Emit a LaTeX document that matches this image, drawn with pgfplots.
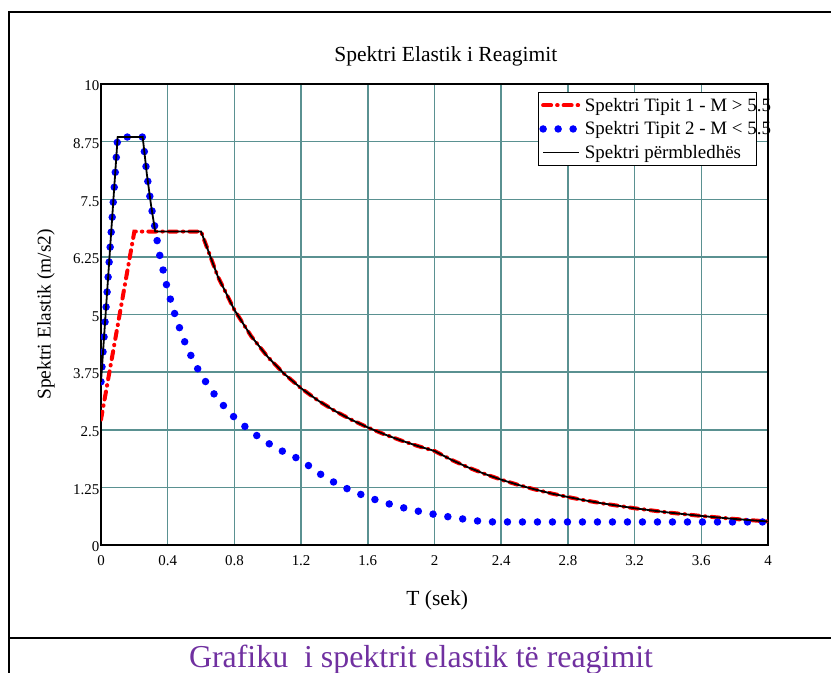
\documentclass[border=0pt]{standalone}
\usepackage{fontspec}
\setmainfont{Liberation Serif}
\usepackage{pgfplots}
\pgfplotsset{compat=1.18}
\definecolor{gridteal}{RGB}{90,145,145}
\definecolor{capurple}{RGB}{112,48,160}
\begin{document}
\begin{tikzpicture}
\useasboundingbox (0,0) rectangle (831bp,-673bp);
\draw[line width=2bp] (8.5bp,-680bp) -- (8.5bp,-12bp) -- (840bp,-12bp);
\draw[line width=2bp] (8.5bp,-638bp) -- (840bp,-638bp);
\begin{axis}[
  at={(101bp,-545bp)}, anchor=south west,
  scale only axis, width=667bp, height=461bp,
  xmin=0, xmax=4, ymin=0, ymax=10,
  xtick={0,0.4,0.8,1.2,1.6,2,2.4,2.8,3.2,3.6,4},
  xticklabels={0,0.4,0.8,1.2,1.6,2,2.4,2.8,3.2,3.6,4},
  ytick={0,1.25,2.5,3.75,5,6.25,7.5,8.75,10},
  yticklabels={0,1.25,2.5,3.75,5,6.25,7.5,8.75,10},
  /pgf/number format/assume math mode=true,
  grid=major, major grid style={gridteal, line width=1.5bp},
  major tick length=0pt,
  axis line style={black, line width=1.5bp},
  tick label style={font=\fontsize{15}{18}\selectfont},
  xticklabel style={anchor=base, inner sep=0pt, yshift=-20.3bp},
  yticklabel style={anchor=east, inner sep=0pt, xshift=-1.5bp, yshift=-2bp},
  title={Spektri Elastik i Reagimit},
  title style={at={(axis description cs:0.517,1.0369)}, anchor=base, font=\fontsize{21.6}{26}\selectfont},
  xlabel={T (sek)},
  xlabel style={at={(axis description cs:0.504,-0.1323)}, anchor=base, font=\fontsize{21.6}{26}\selectfont},
  ylabel={Spektri Elastik (m/s2)},
  ylabel style={at={(axis description cs:-0.0757,0.5)}, rotate=0, anchor=base, font=\fontsize{19.5}{23}\selectfont},
  legend image code/.code={\draw[#1] (0bp,0bp) -- (36bp,0bp);},
  legend cell align=left,
  legend style={at={(0.655,0.9826)}, anchor=north west, draw=black, line width=1bp,
    font=\fontsize{19}{23}\selectfont, inner xsep=1bp, inner ysep=1bp, row sep=0bp,
    nodes={inner xsep=2bp, inner ysep=4.5bp}},
]
\addplot[red, line width=4bp, line cap=round, dash pattern=on 8bp off 6bp on 0.5bp off 6bp] coordinates {
(0,2.72) (0.2,6.8) (0.6,6.8) (0.7,5.829) (0.8,5.1) (0.9,4.533) (1.0,4.08) (1.1,3.709)
(1.2,3.4) (1.3,3.138) (1.4,2.914) (1.5,2.72) (1.6,2.55) (1.7,2.4) (1.8,2.267) (1.9,2.147)
(2.0,2.04) (2.1,1.850) (2.2,1.686) (2.3,1.543) (2.4,1.417) (2.5,1.306) (2.6,1.207)
(2.7,1.119) (2.8,1.041) (2.9,0.970) (3.0,0.907) (3.2,0.797) (3.4,0.706) (3.6,0.630)
(3.8,0.565) (4.0,0.510)};
\addlegendentry{\makebox[169bp][l]{Spektri Tipit 1 - M > 5.5}}
\addplot[blue, line width=7.5bp, line cap=round, dash pattern=on 0bp off 15bp] coordinates {
(0,3.54) (0.1,8.85) (0.25,8.85) (0.275,8.045) (0.3,7.375) (0.35,6.321) (0.4,5.531)
(0.45,4.917) (0.5,4.425) (0.55,4.023) (0.6,3.688) (0.7,3.161) (0.8,2.766) (0.9,2.458)
(1.0,2.213) (1.1,2.011) (1.2,1.844) (1.3,1.571) (1.4,1.355) (1.5,1.180) (1.6,1.037)
(1.7,0.919) (1.8,0.819) (1.9,0.735) (2.0,0.664) (2.1,0.602) (2.2,0.549) (2.3,0.502)
(2.5,0.5) (3.0,0.5) (3.5,0.5) (4.0,0.5)};
\addlegendentry{\makebox[169bp][l]{Spektri Tipit 2 - M < 5.5}}
\addplot[black, line width=1.8bp] coordinates {
(0,3.54) (0.1,8.85) (0.25,8.85) (0.275,8.045) (0.3,7.375) (0.325,6.8) (0.6,6.8)
(0.7,5.829) (0.8,5.1) (0.9,4.533) (1.0,4.08) (1.1,3.709)
(1.2,3.4) (1.3,3.138) (1.4,2.914) (1.5,2.72) (1.6,2.55) (1.7,2.4) (1.8,2.267) (1.9,2.147)
(2.0,2.04) (2.1,1.850) (2.2,1.686) (2.3,1.543) (2.4,1.417) (2.5,1.306) (2.6,1.207)
(2.7,1.119) (2.8,1.041) (2.9,0.970) (3.0,0.907) (3.2,0.797) (3.4,0.706) (3.6,0.630)
(3.8,0.565) (4.0,0.510)};
\addlegendentry{\makebox[169bp][l]{Spektri përmbledhës}}
\end{axis}
\node[anchor=base, text=capurple, font=\fontsize{32}{38}\selectfont, inner sep=0pt] at (421bp,-667bp) {Grafiku\ \ i spektrit elastik të reagimit};
\end{tikzpicture}
\end{document}
